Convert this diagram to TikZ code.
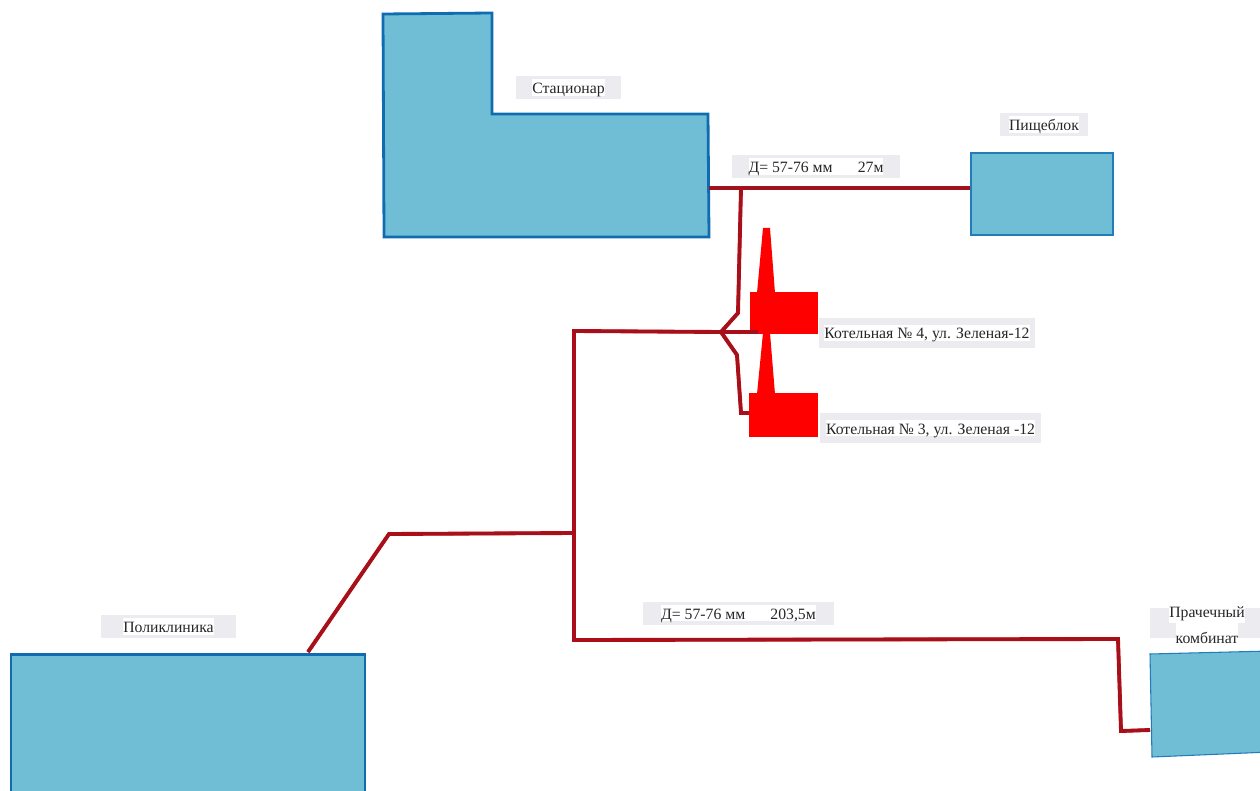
\documentclass[tikz,border=0pt]{standalone}
\usepackage{fontspec}
\setmainfont{Liberation Serif}
\usepackage{xcolor}
\definecolor{wallblue}{RGB}{15,108,176}
\definecolor{roomblue}{RGB}{112,189,214}
\definecolor{pipered}{RGB}{160,18,30}
\definecolor{plategrey}{RGB}{236,236,240}
\newcommand{\platetext}[1]{{\setlength{\fboxsep}{0pt}\colorbox{white}{\strut\raisebox{-2pt}[0pt][0pt]{#1}}}}
\tikzset{
  house/.style={fill=roomblue,draw=wallblue,line width=2.1pt,line join=miter},
  annex/.style={fill=roomblue,draw=wallblue!80!roomblue,line width=0.8pt},
  pipe/.style={draw=pipered,line width=2.4pt,preaction={draw=red!85!black,line width=2.9pt}},
  boiler/.style={fill=red,draw=none,inner sep=0pt},
  plate/.style={fill=plategrey,text=black!85,inner ysep=0pt,minimum height=17.25pt,font=\fontsize{11.8}{12.5}\selectfont,align=center}
}
\begin{document}
\begin{tikzpicture}[x=0.75pt,y=-0.75pt]
  \useasboundingbox (0,0) rectangle (1260,791);
  \clip (0,0) rectangle (1260,791);
  % buildings
  \draw[house] (383,14) -- (492,13) -- (492,114) -- (708,114) -- (709,237) -- (384,237) -- cycle;
  \node[house,inner sep=0pt,minimum width=265.5pt,minimum height=118pt] (polyclinic) at (188,733) {};
  \node[annex,inner sep=0pt,minimum width=106.5pt,minimum height=61.5pt] (canteen) at (1042,194) {};
  \draw[annex] (1150,654) -- (1270,651) -- (1270,752) -- (1152,757) -- cycle;
  % boiler houses
  \node[boiler,minimum width=51pt,minimum height=31.5pt] (boilerfour) at (784,313) {};
  \node[boiler,minimum width=52pt,minimum height=33pt] (boilerthree) at (783.5,415) {};
  \fill[red] (763,228) -- (770,228) -- (775,293) -- (757,293) -- cycle;
  \fill[red] (763,333) -- (770,333) -- (775,394) -- (757,394) -- cycle;
  % pipe points
  \coordinate (stacout) at (709,188);
  \coordinate (tee) at (741,188);
  \coordinate (fork) at (721,332);
  \coordinate (riser) at (574,331);
  \coordinate (midtee) at (574,533);
  \coordinate (laundryin) at (1150,730);
  % pipes
  \draw[pipe] (stacout) -- (canteen.west |- stacout);
  \draw[pipe] (tee) -- (738,313) -- (fork);
  \draw[pipe] (fork) -- (737,355) -- (741,413) -- (749,413);
  \draw[pipe] (758,332) -- (fork) -- (riser) -- (574,640) -- (1118,639) -- (1121,731) -- (laundryin);
  \draw[pipe] (midtee) -- (389,534) -- (308,652);
  % labels
  \node[plate,inner xsep=12pt] (stacname) at (568.5,87.5) {\platetext{Стационар}};
  \node[plate,inner xsep=7pt] (canteenname) at (1044,124.5) {\platetext{Пищеблок}};
  \node[plate,inner xsep=12.4pt] (pipeone) at (816,166.5) {\platetext{Д= 57-76 мм \hspace{1.1em} 27м}};
  \node[plate,inner xsep=3.75pt,minimum height=22.5pt] (namefour) at (927,333) {\platetext{Котельная № 4, ул. Зеленая-12}};
  \node[plate,inner xsep=4.5pt,minimum height=22.5pt] (namethree) at (930.5,428) {\platetext{Котельная № 3, ул. Зеленая -12}};
  \node[plate,inner xsep=16.5pt] (polyname) at (168.5,626.5) {\platetext{Поликлиника}};
  \node[plate,inner xsep=13.5pt] (pipetwo) at (738.5,613) {\platetext{Д= 57-76 мм \hspace{1.1em} 203,5м}};
  \fill[plategrey] (1150,608) rectangle (1260,638);
  \node[text=black!85,font=\fontsize{11.8}{19.5}\selectfont,align=center,inner sep=0pt] (laundryname) at (1207,623) {\platetext{Прачечный}\\\platetext{комбинат}};
\end{tikzpicture}
\end{document}
